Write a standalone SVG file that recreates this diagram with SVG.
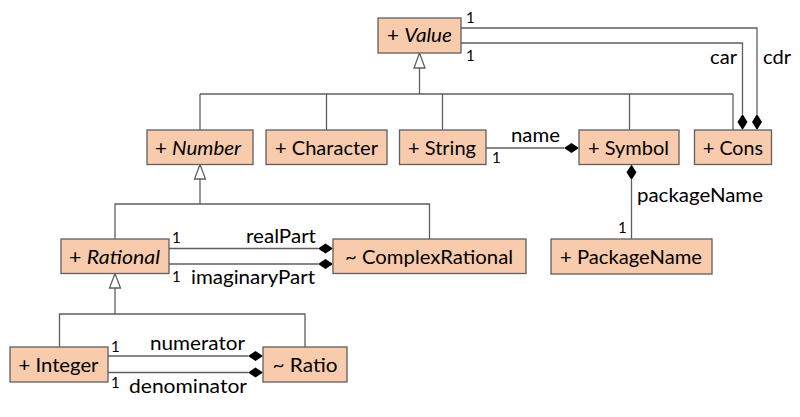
<svg xmlns="http://www.w3.org/2000/svg" width="800" height="417" viewBox="0 0 800 417">
<style>
.box{fill:#F8CBAD;stroke:#5f5f5f;stroke-width:1.3}
.t{font-family:Lato,"Liberation Sans",sans-serif;font-size:19px;fill:#000}
.l{font-family:Lato,"Liberation Sans",sans-serif;font-size:18.5px;fill:#000}
.m{font-family:Lato,"Liberation Sans",sans-serif;font-size:15px;fill:#000}
.i{font-style:italic}
.c{fill:none;stroke:#5f5f5f;stroke-width:1.3}
.tri{fill:#fff;stroke:#5f5f5f;stroke-width:1.3}
.dia{fill:#000;stroke:none}
</style>
<rect width="800" height="417" fill="#fff"/>
<g id="connectors">
  <!-- generalization to Value -->
  <polyline class="c" points="419.5,68 419.5,94"/>
  <polyline class="c" points="200,94 733,94"/>
  <line class="c" x1="200" y1="94" x2="200" y2="130"/>
  <line class="c" x1="326.5" y1="94" x2="326.5" y2="130"/>
  <line class="c" x1="442.5" y1="94" x2="442.5" y2="130"/>
  <line class="c" x1="629.5" y1="94" x2="629.5" y2="130"/>
  <line class="c" x1="733" y1="94" x2="733" y2="130"/>
  <polygon class="tri" points="419.5,53 414,68 425,68"/>
  <!-- car / cdr -->
  <polyline class="c" points="461,43 742.5,43 742.5,114"/>
  <polygon class="dia" points="742.5,114 747.5,122 742.5,130 737.5,122"/>
  <polyline class="c" points="461,28 757,28 757,114"/>
  <polygon class="dia" points="757,114 762,122 757,130 752,122"/>
  <!-- name -->
  <line class="c" x1="486" y1="148" x2="564" y2="148"/>
  <polygon class="dia" points="564,148 571.5,143 579,148 571.5,153"/>
  <!-- packageName -->
  <line class="c" x1="631.5" y1="180" x2="631.5" y2="239"/>
  <polygon class="dia" points="631.5,164.5 636.5,172.3 631.5,180 626.5,172.3"/>
  <!-- generalization to Number -->
  <line class="c" x1="200" y1="179" x2="200" y2="204"/>
  <polyline class="c" points="115,239 115,204 429.5,204 429.5,239"/>
  <polygon class="tri" points="200,164.5 194.5,179 205.5,179"/>
  <!-- realPart / imaginaryPart -->
  <line class="c" x1="169" y1="248.5" x2="318" y2="248.5"/>
  <polygon class="dia" points="318,248.5 325.5,243.5 333,248.5 325.5,253.5"/>
  <line class="c" x1="169" y1="264" x2="318" y2="264"/>
  <polygon class="dia" points="318,264 325.5,259 333,264 325.5,269"/>
  <!-- generalization to Rational -->
  <line class="c" x1="115" y1="288" x2="115" y2="314"/>
  <polyline class="c" points="59.5,347 59.5,314 305,314 305,347"/>
  <polygon class="tri" points="115,273.5 109.5,288 120.5,288"/>
  <!-- numerator / denominator -->
  <line class="c" x1="108" y1="356" x2="248" y2="356"/>
  <polygon class="dia" points="248,356 255.5,351 263,356 255.5,361"/>
  <line class="c" x1="108" y1="372.5" x2="248" y2="372.5"/>
  <polygon class="dia" points="248,372.5 255.5,367.5 263,372.5 255.5,377.5"/>
  <!-- labels -->
  <text class="m" x="466" y="23">1</text>
  <text class="m" x="466" y="61">1</text>
  <text class="l" x="710" y="64" textLength="27" lengthAdjust="spacingAndGlyphs">car</text>
  <text class="l" x="763" y="64" textLength="28" lengthAdjust="spacingAndGlyphs">cdr</text>
  <text class="l" x="511" y="142" textLength="49" lengthAdjust="spacingAndGlyphs">name</text>
  <text class="m" x="492" y="163">1</text>
  <text class="l" x="637" y="202" textLength="126" lengthAdjust="spacingAndGlyphs">packageName</text>
  <text class="m" x="618" y="233">1</text>
  <text class="m" x="172" y="243">1</text>
  <text class="l" x="246" y="243" textLength="70" lengthAdjust="spacingAndGlyphs">realPart</text>
  <text class="m" x="172" y="282">1</text>
  <text class="l" x="191" y="284" textLength="124" lengthAdjust="spacingAndGlyphs">imaginaryPart</text>
  <text class="m" x="111" y="352">1</text>
  <text class="l" x="150" y="350" textLength="95" lengthAdjust="spacingAndGlyphs">numerator</text>
  <text class="m" x="111" y="388">1</text>
  <text class="l" x="129" y="393" textLength="118" lengthAdjust="spacingAndGlyphs">denominator</text>
</g>
<g id="Value">
  <rect class="box" x="378" y="18" width="83" height="35"/>
  <text class="t" x="387" y="42" textLength="65" lengthAdjust="spacingAndGlyphs">+ <tspan class="i">Value</tspan></text>
</g>
<g id="Number">
  <rect class="box" x="147" y="130" width="106" height="34.5"/>
  <text class="t" x="155" y="155" textLength="86" lengthAdjust="spacingAndGlyphs">+ <tspan class="i">Number</tspan></text>
</g>
<g id="Character">
  <rect class="box" x="266" y="130" width="121" height="34.5"/>
  <text class="t" x="275" y="155" textLength="103" lengthAdjust="spacingAndGlyphs">+ Character</text>
</g>
<g id="String">
  <rect class="box" x="399.5" y="130" width="86.5" height="34.5"/>
  <text class="t" x="408" y="155" textLength="68" lengthAdjust="spacingAndGlyphs">+ String</text>
</g>
<g id="Symbol">
  <rect class="box" x="579" y="130" width="100" height="34.5"/>
  <text class="t" x="588" y="155" textLength="81" lengthAdjust="spacingAndGlyphs">+ Symbol</text>
</g>
<g id="Cons">
  <rect class="box" x="694.5" y="130" width="77" height="34.5"/>
  <text class="t" x="703" y="155" textLength="60" lengthAdjust="spacingAndGlyphs">+ Cons</text>
</g>
<g id="PackageName">
  <rect class="box" x="551" y="239" width="161" height="35"/>
  <text class="t" x="560" y="263.5" textLength="142" lengthAdjust="spacingAndGlyphs">+ PackageName</text>
</g>
<g id="Rational">
  <rect class="box" x="61" y="239" width="108" height="34.5"/>
  <text class="t" x="69" y="263.5" textLength="91" lengthAdjust="spacingAndGlyphs">+ <tspan class="i">Rational</tspan></text>
</g>
<g id="ComplexRational">
  <rect class="box" x="333" y="239" width="193" height="34.5"/>
  <text class="t" x="345" y="263.5" textLength="168" lengthAdjust="spacingAndGlyphs">~ ComplexRational</text>
</g>
<g id="Integer">
  <rect class="box" x="10" y="347" width="98" height="35"/>
  <text class="t" x="18.5" y="371.5" textLength="80" lengthAdjust="spacingAndGlyphs">+ Integer</text>
</g>
<g id="Ratio">
  <rect class="box" x="263" y="347" width="84" height="35"/>
  <text class="t" x="272.5" y="371.5" textLength="65" lengthAdjust="spacingAndGlyphs">~ Ratio</text>
</g>
</svg>
